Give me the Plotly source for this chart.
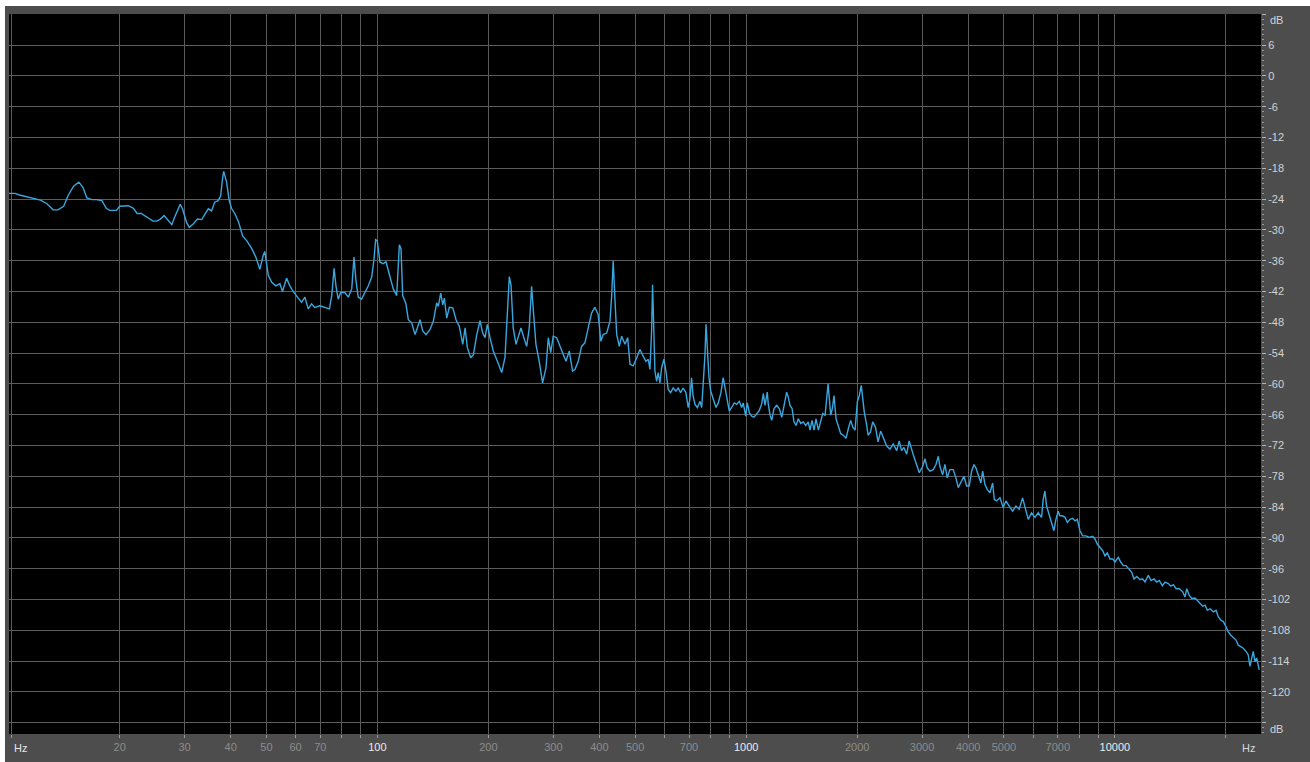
import plotly.graph_objects as go

# ---- spectrum readout (Hz, dB), one block per decade ----
freq_lo = [10.0, 10.4, 10.7, 11.2, 11.7, 12.2, 12.7, 13.2, 13.6, 14.1, 14.5, 15.0, 15.5, 15.9,
           16.3, 16.8, 17.3, 17.9, 18.4, 18.8, 19.6, 20.0, 21.1, 21.8, 22.3, 22.9, 23.7, 24.6,
           25.2, 25.8, 26.4, 26.8, 27.7, 28.2, 29.2, 29.6, 30.4, 30.9, 31.7, 32.5, 33.4, 34.1,
           34.8, 35.5, 36.2, 37.0, 37.6, 38.0, 38.3, 39.0, 39.6, 40.2, 41.1, 42.0, 43.1, 44.2,
           45.6, 46.8, 48.0, 49.0, 49.5, 50.6, 51.7, 53.0, 54.4, 55.3, 56.7, 57.9, 59.1, 61.0,
           62.3, 63.6, 64.9, 66.3, 67.6, 69.8, 72.0, 74.1, 75.2, 76.3, 77.2, 78.3, 79.5, 81.6,
           83.4, 85.2, 86.4, 87.4, 88.7, 90.6, 92.5, 94.5, 96.5, 97.9, 98.9]
db_lo = [-22.9, -22.9, -23.2, -23.5, -23.8, -24.2, -24.9, -26.1, -26.1, -25.4, -23.3, -21.5, -20.7, -21.7,
         -23.8, -24.1, -24.1, -24.3, -25.8, -26.2, -26.2, -25.4, -25.3, -25.8, -26.8, -26.8, -27.5, -28.3,
         -28.3, -27.9, -27.2, -27.7, -29.0, -27.5, -25.0, -25.9, -28.6, -29.5, -28.8, -27.9, -28.0, -26.9,
         -25.9, -26.3, -24.6, -24.3, -23.3, -20.1, -18.6, -20.7, -24.1, -25.8, -26.9, -28.4, -31.2, -32.1,
         -33.6, -35.3, -37.7, -35.0, -34.2, -38.9, -40.2, -40.9, -40.5, -42.0, -39.4, -40.9, -42.0, -43.3,
         -44.1, -43.1, -45.4, -44.4, -45.1, -44.8, -45.1, -45.4, -42.8, -37.5, -40.9, -43.5, -42.2, -42.2,
         -43.1, -41.5, -35.3, -39.6, -43.1, -43.5, -42.2, -40.9, -39.2, -35.7, -31.9]

freq_mid = [99.9, 101.6, 103.7, 105.5, 107.7, 110.4, 112.8, 114.7, 115.9, 117.1, 119.5, 121.3, 123.9,
            126.5, 128.3, 130.5, 132.7, 135.4, 138.9, 141.8, 144.8, 146.3, 148.5, 150.4, 151.9, 154.2,
            156.7, 160.1, 163.4, 166.8, 170.4, 172.9, 175.4, 179.1, 182.1, 186.0, 189.8, 193.0, 195.8,
            198.7, 202.0, 206.2, 211.5, 217.3, 221.8, 225.0, 227.9, 230.3, 233.5, 237.6, 241.0, 245.1,
            249.6, 254.0, 258.1, 261.9, 264.5, 269.1, 274.7, 280.5, 286.5, 290.7, 295.1, 299.8, 306.3,
            312.7, 319.1, 324.6, 331.4, 338.3, 343.3, 350.5, 357.9, 365.4, 373.0, 380.9, 388.9, 397.0,
            403.7, 409.4, 418.6, 427.3, 431.8, 436.0, 440.8, 445.6, 452.9, 459.6, 469.2, 477.2, 484.1,
            494.0, 504.8, 515.2, 525.7, 534.9, 542.6, 548.4, 554.1, 557.5, 565.7, 571.8, 577.5, 583.7,
            589.8, 598.3, 605.9, 614.7, 623.9, 633.9, 644.9, 654.2, 664.1, 674.7, 686.5, 696.4, 703.8,
            711.2, 718.1, 726.8, 737.4, 749.9, 757.7, 765.2, 773.3, 778.2, 786.6, 793.0, 801.4, 814.1,
            828.3, 840.3, 854.4, 866.5, 877.7, 888.9, 900.0, 913.3, 928.5, 942.7, 958.1, 972.4, 981.9,
            997.2]
db_mid = [-32.1, -36.3, -36.6, -36.2, -38.6, -41.5, -42.8, -32.9, -33.7, -42.8, -44.4, -47.5, -48.1,
          -50.4, -49.1, -47.5, -49.7, -50.4, -49.4, -47.8, -44.2, -44.9, -42.3, -44.6, -43.3, -47.2,
          -45.1, -45.2, -47.5, -48.8, -52.3, -49.1, -53.0, -54.9, -54.3, -50.4, -47.7, -50.1, -51.0,
          -48.4, -51.0, -53.6, -55.6, -57.8, -54.9, -47.5, -39.1, -40.7, -49.1, -52.3, -50.7, -49.1,
          -51.0, -52.7, -49.1, -41.0, -45.2, -52.3, -55.6, -59.8, -56.9, -51.0, -53.9, -50.7, -51.0,
          -52.7, -54.3, -55.6, -53.6, -57.5, -57.2, -55.6, -52.7, -52.0, -49.1, -46.2, -45.1, -46.5,
          -51.7, -50.4, -50.1, -47.8, -42.9, -36.0, -43.6, -50.4, -52.7, -50.7, -52.3, -51.0, -56.2,
          -56.5, -54.9, -53.3, -54.6, -55.6, -55.2, -57.2, -49.7, -40.7, -57.5, -59.5, -57.8, -59.8,
          -56.9, -55.2, -57.5, -61.1, -61.7, -60.8, -61.4, -60.8, -61.7, -60.8, -61.7, -64.6, -63.0,
          -58.8, -62.4, -64.0, -64.6, -63.4, -64.6, -59.5, -54.3, -48.4, -54.3, -58.8, -61.4, -63.0,
          -64.6, -63.7, -61.7, -58.8, -60.8, -63.4, -65.3, -64.6, -63.7, -64.0, -63.4, -64.6, -63.7,
          -66.3]

freq_hi = [1007, 1020, 1035, 1050, 1068, 1085, 1102, 1113, 1125, 1141, 1148, 1161, 1173, 1190, 1210,
           1230, 1249, 1267, 1288, 1301, 1315, 1332, 1348, 1365, 1385, 1406, 1429, 1451, 1474, 1490,
           1509, 1528, 1547, 1570, 1593, 1613, 1637, 1654, 1668, 1681, 1696, 1713, 1731, 1753, 1778,
           1805, 1835, 1866, 1893, 1921, 1945, 1974, 2002, 2027, 2052, 2070, 2091, 2123, 2141, 2173,
           2204, 2242, 2279, 2316, 2354, 2405, 2454, 2505, 2560, 2601, 2639, 2678, 2724, 2768, 2839,
           2901, 2948, 3010, 3055, 3099, 3151, 3216, 3272, 3319, 3354, 3410, 3460, 3510, 3569, 3643,
           3706, 3760, 3838, 3895, 3962, 4026, 4087, 4148, 4201, 4261, 4331, 4379, 4443, 4508, 4583,
           4661, 4708, 4780, 4878, 4979, 5065, 5170, 5279, 5391, 5502, 5619, 5702, 5821, 5942, 6069,
           6195, 6325, 6390, 6459, 6528, 6634, 6732, 6832, 6919, 7018, 7092, 7200, 7325, 7432, 7556,
           7681, 7795, 7908, 8040, 8176, 8348, 8521, 8702, 8830, 8958, 9109, 9264, 9400, 9537, 9697,
           9862]
db_hi = [-63.7, -65.6, -66.3, -66.5, -65.8, -65.2, -63.9, -61.9, -64.2, -61.6, -63.9, -66.1, -67.1, -64.8, -64.2,
         -64.8, -66.5, -64.2, -61.6, -62.6, -64.2, -64.8, -67.4, -68.1, -66.8, -67.7, -67.4, -68.1, -67.4, -69.0,
         -67.1, -69.0, -66.8, -69.0, -67.4, -65.8, -66.1, -62.9, -60.0, -62.9, -66.1, -64.8, -62.3, -66.8, -68.1,
         -69.7, -70.0, -70.6, -68.7, -67.1, -68.4, -69.0, -63.5, -62.3, -60.3, -63.5, -65.5, -68.1, -70.0, -69.4,
         -67.4, -68.4, -71.3, -69.2, -70.5, -72.1, -72.7, -71.7, -73.0, -71.1, -73.0, -72.4, -73.7, -71.1, -73.8,
         -76.1, -77.3, -76.1, -74.6, -76.4, -77.0, -76.7, -75.7, -74.1, -76.1, -77.7, -75.7, -78.3, -76.7, -76.7,
         -78.3, -80.2, -79.0, -78.0, -79.9, -79.9, -77.0, -75.7, -76.4, -78.0, -79.3, -77.0, -79.6, -80.6, -81.2,
         -79.3, -82.5, -82.8, -82.2, -84.1, -82.8, -83.8, -84.8, -83.8, -84.4, -82.2, -84.1, -86.4, -85.1, -86.0,
         -85.1, -86.0, -82.5, -80.9, -83.8, -85.7, -87.0, -88.6, -86.4, -84.8, -85.7, -85.7, -86.0, -87.0, -86.4,
         -86.2, -86.7, -86.4, -88.6, -89.6, -89.6, -89.9, -89.7, -90.2, -91.2, -91.8, -92.5, -93.5, -92.9, -94.1,
         -94.1]

freq_top = [10006, 10113, 10215, 10369, 10538, 10718, 10872, 11106, 11267, 11459, 11697, 11895, 12068,
            12320, 12530, 12767, 12984, 13196, 13445, 13675, 13960, 14172, 14404, 14649, 14954, 15273,
            15496, 15662, 15918, 16159, 16495, 16732, 17019, 17307, 17559, 17811, 18116, 18492, 18808,
            19077, 19357, 19681, 20017, 20303, 20602, 20947, 21305, 21610, 21927, 22293, 22673, 22998,
            23236, 23487, 23726, 23980, 24237, 24626]
db_top = [-94.7, -94.1, -93.8, -94.7, -95.4, -95.4, -96.0, -96.7, -98.0, -97.5, -98.1, -98.0, -98.6,
          -97.3, -98.3, -98.0, -98.6, -98.3, -99.3, -98.6, -98.9, -99.4, -99.1, -99.9, -99.9, -100.5,
          -101.5, -99.9, -101.2, -101.8, -101.7, -102.2, -102.8, -103.3, -103.1, -104.1, -103.8, -104.4, -104.1,
          -105.4, -106.0, -106.3, -107.3, -108.3, -108.9, -109.4, -109.9, -110.9, -111.2, -111.5, -112.1, -112.8,
          -115.0, -113.1, -112.1, -114.1, -113.4, -115.7]

freq_hz = freq_lo + freq_mid + freq_hi + freq_top
level_db = db_lo + db_mid + db_hi + db_top

# ---- axis ticks ----
DIM = "#8c8c8c"
x_tick_hz = [10.15, 20, 30, 40, 50, 60, 70, 80, 90,
             100, 200, 300, 400, 500, 600, 700, 800, 900,
             1000, 2000, 3000, 4000, 5000, 6000, 7000, 8000, 9000,
             10000, 20000]
x_tick_labels = ["", "20", "30", "40", "50", "60", "70", "", "",
                 "100", "200", "300", "400", "500", "", "700", "", "",
                 "1000", "2000", "3000", "4000", "5000", "", "7000", "", "",
                 "10000", ""]
x_decades = [100, 1000, 10000]
db_tick_vals = list(range(-126, 13, 6))
db_tick_labels = ["" if v in (12, -126) else str(v) for v in db_tick_vals]


def x_label(text):
    if text == "" or text in ("100", "1000", "10000"):
        return text
    return f"<span style='color:{DIM}'>{text}</span>"


FONT = "Liberation Sans"
X_RANGE = [1.00095, 4.3962]
Y_RANGE = [-128.2, 12.05]

fig = go.Figure()
fig.add_trace(go.Scatter(
    x=freq_hz, y=level_db, mode="lines",
    line=dict(color="#3aa6de", width=1.4),
    hoverinfo="x+y", showlegend=False,
))

fig.update_layout(
    width=1310, height=762, autosize=False,
    margin=dict(l=9, r=49, t=14, b=23, pad=0),
    paper_bgcolor="#4d4d4d",
    plot_bgcolor="#000000",
    font=dict(family=FONT, size=11, color="#d6d6d6"),
    xaxis=dict(
        type="log", range=X_RANGE,
        tickmode="array", tickvals=x_tick_hz,
        ticktext=[x_label(t) for t in x_tick_labels],
        showgrid=True, gridcolor="#5a5a5a", gridwidth=1,
        ticks="outside", ticklen=3, tickcolor="#9a9a9a", tickwidth=1,
        tickfont=dict(family=FONT, size=11, color="#ececec"),
        zeroline=False, showline=False, fixedrange=True,
    ),
    xaxis2=dict(
        type="log", range=X_RANGE, overlaying="x", anchor="y",
        tickmode="array", tickvals=x_decades, showticklabels=False,
        showgrid=True, gridcolor="#7c7c7c", gridwidth=1,
        ticks="outside", ticklen=5, tickcolor="#bdbdbd",
        zeroline=False, showline=False, fixedrange=True,
    ),
    yaxis=dict(
        side="right", range=Y_RANGE,
        tickmode="array", tickvals=db_tick_vals, ticktext=db_tick_labels,
        showgrid=True, gridcolor="#5c5c5c", gridwidth=1,
        ticks="outside", ticklen=4, tickcolor="#b4b4b4",
        minor=dict(tickmode="linear", tick0=0, dtick=1, ticks="outside",
                   ticklen=2, tickcolor="#9a9a9a", showgrid=False),
        tickfont=dict(family=FONT, size=11, color="#d2d2d2"),
        zeroline=False, showline=False, fixedrange=True,
    ),
    shapes=[
        # white border strips around the grey frame
        dict(type="rect", xref="paper", yref="paper", x0=-0.05, x1=1.1, y0=1.0110, y1=1.1,
             fillcolor="#ffffff", line=dict(width=0), layer="above"),
        dict(type="rect", xref="paper", yref="paper", x0=-0.05, x1=-0.0032, y0=-0.1, y1=1.1,
             fillcolor="#ffffff", line=dict(width=0), layer="above"),
    ],
    annotations=[
        dict(text="Hz", xref="paper", yref="paper", x=0.0022, y=-0.0189,
             xanchor="left", yanchor="middle", showarrow=False,
             font=dict(family=FONT, size=11, color="#e6e6e6")),
        dict(text="Hz", xref="paper", yref="paper", x=0.9904, y=-0.0193,
             xanchor="center", yanchor="middle", showarrow=False,
             font=dict(family=FONT, size=11, color="#d6d6d6")),
        dict(text="dB", xref="paper", yref="paper", x=1.0056, y=0.9917,
             xanchor="left", yanchor="middle", showarrow=False,
             font=dict(family=FONT, size=11, color="#d2d2d2")),
        dict(text="dB", xref="paper", yref="paper", x=1.0056, y=0.0069,
             xanchor="left", yanchor="middle", showarrow=False,
             font=dict(family=FONT, size=11, color="#d2d2d2")),
    ],
)

fig.write_html("out.html")
